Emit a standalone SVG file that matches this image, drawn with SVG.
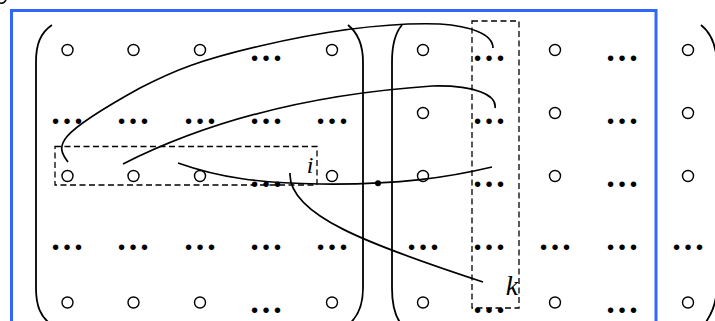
<svg xmlns="http://www.w3.org/2000/svg" width="715" height="321" viewBox="0 0 715 321">
<defs>
<style>
.frame{fill:none;stroke:#3366ff;stroke-width:3}
.br{fill:none;stroke:#000;stroke-width:1.8}
.c{fill:none;stroke:#000;stroke-width:1.4}
.d{font-family:"Liberation Serif","Times New Roman",serif;font-size:34px;font-weight:bold;text-anchor:middle;fill:#000}
.box{fill:none;stroke:#000;stroke-width:1.3;stroke-dasharray:6,3.5}
.cv{fill:none;stroke:#000;stroke-width:1.7}
.lb{font-family:"Liberation Serif","Times New Roman",serif;font-style:italic;fill:#000}
</style>
</defs>
<rect width="715" height="321" fill="#fff"/>
<path d="M0,3 Q4,4 6,0" fill="none" stroke="#000" stroke-width="1.5"/>
<rect class="frame" x="11.5" y="10.5" width="644.5" height="330"/>

<g id="matrix-left">
<path class="br" d="M52,25 C40,33 36,45 36,62 L36,288 C36,305 40,317 52,325"/>
<path class="br" d="M348,25 C358,33 363,45 363,62 L363,288 C363,305 358,317 348,325"/>
<g id="left-row1">
<circle class="c" cx="67.5" cy="50" r="5.5"/><circle class="c" cx="133.5" cy="50" r="5.5"/><circle class="c" cx="200" cy="50" r="5.5"/>
<text class="d" x="266" y="61">…</text><circle class="c" cx="332" cy="50" r="5.5"/>
</g>
<g id="left-row2">
<text class="d" x="67" y="124">…</text><text class="d" x="133" y="124">…</text><text class="d" x="200" y="124">…</text><text class="d" x="266" y="124">…</text><text class="d" x="332" y="124">…</text>
</g>
<g id="left-row3">
<circle class="c" cx="67.5" cy="176" r="5.5"/><circle class="c" cx="133.5" cy="176" r="5.5"/><circle class="c" cx="200" cy="176" r="5.5"/>
<text class="d" x="266" y="187">…</text><circle class="c" cx="332" cy="176" r="5.5"/>
</g>
<g id="left-row4">
<text class="d" x="67" y="250">…</text><text class="d" x="133" y="250">…</text><text class="d" x="200" y="250">…</text><text class="d" x="266" y="250">…</text><text class="d" x="332" y="250">…</text>
</g>
<g id="left-row5">
<circle class="c" cx="67.5" cy="302.5" r="5.5"/><circle class="c" cx="133.5" cy="302.5" r="5.5"/><circle class="c" cx="200" cy="302.5" r="5.5"/>
<text class="d" x="266" y="313">…</text><circle class="c" cx="332" cy="302.5" r="5.5"/>
</g>
</g>

<g id="matrix-right">
<path class="br" d="M402,25 C395,33 392,45 392,62 L392,288 C392,305 395,317 402,325"/>
<path class="br" d="M701,25 C710,32 716,45 717,62 L717,288 C716,305 711,315 704,325"/>
<g id="right-row1">
<circle class="c" cx="423" cy="50" r="5.5"/><text class="d" x="489" y="61">…</text><circle class="c" cx="555" cy="50" r="5.5"/><text class="d" x="622" y="61">…</text><circle class="c" cx="688" cy="50" r="5.5"/>
</g>
<g id="right-row2">
<circle class="c" cx="423" cy="113" r="5.5"/><text class="d" x="489" y="124">…</text><circle class="c" cx="555" cy="113" r="5.5"/><text class="d" x="622" y="124">…</text><circle class="c" cx="688" cy="113" r="5.5"/>
</g>
<g id="right-row3">
<circle class="c" cx="423" cy="176" r="5.5"/><text class="d" x="489" y="187">…</text><circle class="c" cx="555" cy="176" r="5.5"/><text class="d" x="622" y="187">…</text><circle class="c" cx="688" cy="176" r="5.5"/>
</g>
<g id="right-row4">
<text class="d" x="423" y="250">…</text><text class="d" x="489" y="250">…</text><text class="d" x="555" y="250">…</text><text class="d" x="622" y="250">…</text><text class="d" x="688" y="250">…</text>
</g>
<g id="right-row5">
<circle class="c" cx="423" cy="302.5" r="5.5"/><text class="d" x="489" y="313">…</text><circle class="c" cx="555" cy="302.5" r="5.5"/><text class="d" x="622" y="313">…</text><circle class="c" cx="688" cy="302.5" r="5.5"/>
</g>
</g>

<g id="row-i-box">
<rect class="box" x="55" y="146.5" width="262" height="38.5"/>
</g>
<g id="col-k-box">
<rect class="box" x="472" y="21" width="47" height="287"/>
</g>

<g id="connectors">
<path class="cv" d="M68,162 C55,145 55,135 140,88 C175,70 200,60 260,46 C320,32 380,22 440,24 C470,26 493,34 493,48"/>
<path class="cv" d="M123,164 C200,125 300,95 432,86 C475,85 497,95 495,108"/>
<path class="cv" d="M178,163 C220,178 260,183 320,184 C400,185 450,177 492,167"/>
<path class="cv" d="M290,173 C288,215 370,245 483,282"/>
<circle cx="378" cy="183.3" r="3" fill="#000"/>
</g>

<g id="labels">
<text class="lb" x="310" y="173" font-size="24" text-anchor="middle">i</text>
<text class="lb" x="512" y="295" font-size="28" text-anchor="middle">k</text>
</g>
</svg>
